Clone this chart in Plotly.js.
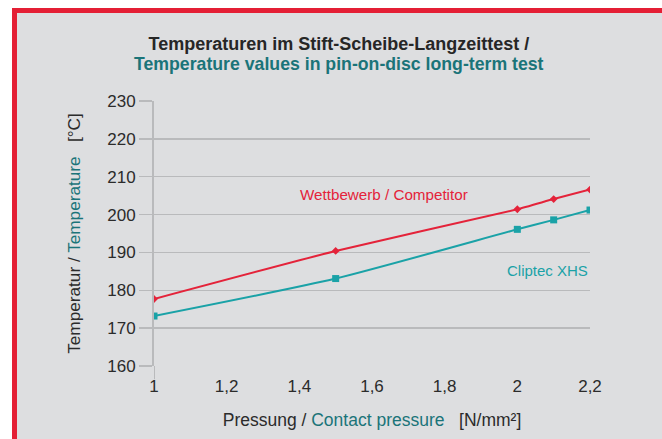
<!DOCTYPE html>
<html>
<head>
<meta charset="utf-8">
<script src="https://cdn.plot.ly/plotly-3.0.1.min.js"></script>
<style>
  body { margin: 0; background: #fff; }
  #frame {
    position: absolute; left: 12px; top: 8px;
    width: 645px; height: 426px;
    border-top: 5px solid #e41f35; border-left: 5px solid #e41f35;
    background: #dddee0;
  }
  #chart { width: 645px; height: 426px; }
</style>
</head>
<body>
<div id="frame"><div id="chart"></div></div>
<script>
const pressure = [1, 1.5, 2, 2.1, 2.2];
const competitor = [177.7, 190.4, 201.4, 204.1, 206.6];
const cliptec = [173.2, 183.1, 196.1, 198.6, 201.2];

const red = '#e4233a';
const cyan = '#1aa2a7';
const teal = '#1a7479';
const grid = '#b9babc';

const data = [
  {
    x: pressure, y: competitor, type: 'scatter', mode: 'lines+markers',
    line: {color: red, width: 2, shape: 'spline', smoothing: 0.4},
    marker: {color: red, size: 6, symbol: 'diamond'},
    name: 'Wettbewerb / Competitor'
  },
  {
    x: pressure, y: cliptec, type: 'scatter', mode: 'lines+markers',
    line: {color: cyan, width: 2, shape: 'spline', smoothing: 0.6},
    marker: {color: cyan, size: 7, symbol: 'square'},
    name: 'Cliptec XHS'
  }
];

const layout = {
  width: 645, height: 426,
  margin: {l: 137, r: 72, t: 88, b: 73},
  paper_bgcolor: '#dddee0',
  plot_bgcolor: '#dddee0',
  separators: ',.',
  showlegend: false,
  font: {family: 'Liberation Sans, Arial, sans-serif', size: 17, color: '#2b2b2b'},
  title: {
    text: '<b>Temperaturen im Stift-Scheibe-Langzeittest /</b>',
    xref: 'container', x: 0.499, xanchor: 'center',
    yref: 'container', y: 1 - 31 / 426, yanchor: 'middle',
    font: {size: 18, color: '#262626'}
  },
  xaxis: {
    range: [1, 2.2], dtick: 0.2, tick0: 1,
    showgrid: false, zeroline: false, showline: false,
    ticks: 'outside', ticklen: 5, tickcolor: 'rgba(0,0,0,0)',
    tickfont: {size: 17, color: '#2b2b2b'},
    title: {
      text: 'Pressung / <span style="color:' + teal + '">Contact pressure</span>   [N/mm²]',
      standoff: 18, font: {size: 17.5, color: '#2b2b2b'}
    }
  },
  yaxis: {
    range: [160, 230], dtick: 10,
    showgrid: true, gridcolor: grid, gridwidth: 1.5,
    zeroline: false, showline: true, linecolor: grid, linewidth: 2,
    ticks: 'outside', ticklen: 13, tickcolor: grid, tickwidth: 1.5,
    tickfont: {size: 17, color: '#2b2b2b'},
    title: {
      text: 'Temperatur / <span style="color:' + teal + '">Temperature</span>   [°C]',
      standoff: 22, font: {size: 17.2, color: '#2b2b2b'}
    }
  },
  shapes: [
    {type: 'line', xref: 'x', yref: 'paper', x0: 1, x1: 1, y0: 0, y1: -0.05,
     line: {color: grid, width: 2}}
  ],
  annotations: [
    {x: (339 - 154) / 436, y: (366 - 64) / 265, xref: 'paper', yref: 'paper',
     xanchor: 'center', yanchor: 'middle',
     text: '<b>Temperature values in pin-on-disc long-term test</b>',
     showarrow: false, font: {size: 17.7, color: teal}},
    {x: 1.634, y: 205.2, xref: 'x', yref: 'y', text: 'Wettbewerb / Competitor',
     showarrow: false, font: {size: 15.2, color: red}},
    {x: 2.2, y: 185.1, xref: 'x', yref: 'y', text: 'Cliptec XHS', xanchor: 'right',
     showarrow: false, font: {size: 15, color: cyan}}
  ]
};

Plotly.newPlot('chart', data, layout, {displayModeBar: false, staticPlot: true});
</script>
</body>
</html>
